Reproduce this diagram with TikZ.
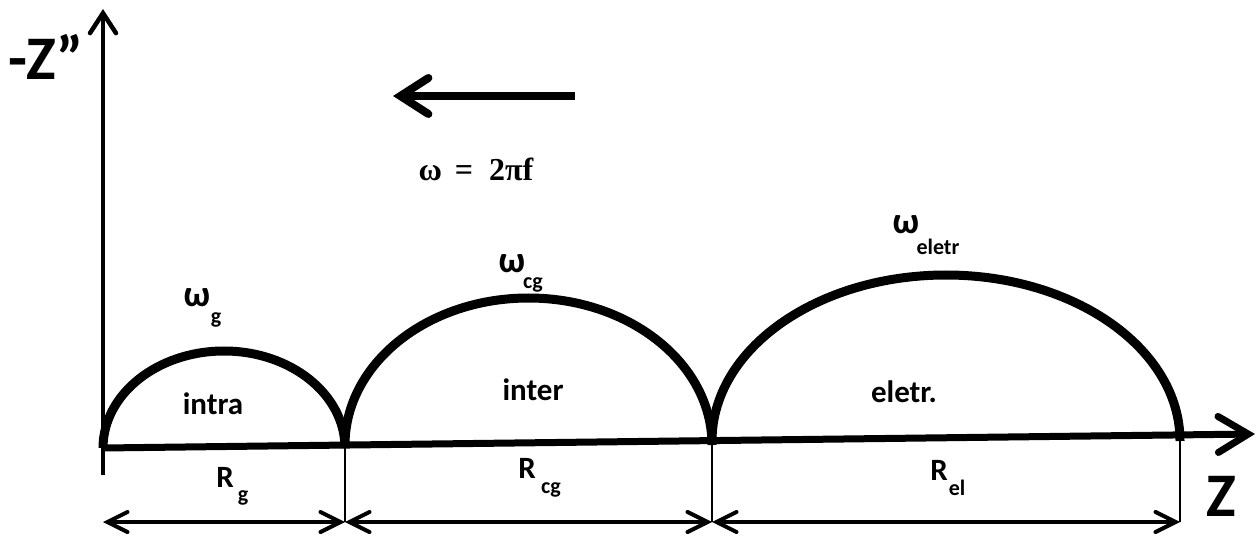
\documentclass[tikz,border=0pt]{standalone}
\usepackage{fontspec}
\setmainfont{Carlito}
\newfontfamily\serifb{Liberation Serif}
\usetikzlibrary{arrows.meta}
\begin{document}
\begin{tikzpicture}[x=1pt,y=1pt,
  lbl/.style={font=\fontsize{31}{36}\selectfont\bfseries, inner sep=0},
  sublbl/.style={font=\fontsize{22}{26}\selectfont\bfseries, inner sep=0},
  omlbl/.style={font=\fontsize{37}{44}\selectfont\bfseries, inner sep=0},
  biglbl/.style={font=\fontsize{62}{72}\selectfont\bfseries, inner sep=0},
  axisv/.style={line width=4.5pt, -{Straight Barb[length=20pt,width=26pt,line cap=round]}},
  axish/.style={line width=7pt, -{Straight Barb[length=30pt,width=36pt,line cap=round]}},
  toparr/.style={line width=8pt, -{Straight Barb[length=28pt,width=36pt,line cap=round]}},
  dimarr/.style={line width=4pt, {Straight Barb[length=20pt,width=20pt,line cap=round]}-{Straight Barb[length=20pt,width=20pt,line cap=round]}},
  tick/.style={line width=1.3pt},
  arcline/.style={line width=9pt}
]
\useasboundingbox (0,0) rectangle (1258,536);
% coordinates
\coordinate (Ybot) at (103,61);
\coordinate (Ytop) at (103,527);
\coordinate (O) at (103,88);
\coordinate (Xend) at (1255,102);
\coordinate (A) at (345,91);
\coordinate (B) at (712,95);
\coordinate (C) at (1180,99);
\coordinate (O1) at (103,14);
\coordinate (A1) at (345,14);
\coordinate (B1) at (712,14);
\coordinate (C1) at (1180,14);
\coordinate (T1) at (575,440);
\coordinate (T2) at (393,440);
% ticks
\draw[tick] (A) -- (A1);
\draw[tick] (B) -- (B1);
\draw[tick] (C) -- (C1);
% arcs
\draw[arcline] (O) arc[start angle=180,end angle=0,x radius=121,y radius=97];
\draw[arcline] (A) arc[start angle=180,end angle=0,x radius=183.5,y radius=147];
\draw[arcline] (B) arc[start angle=180,end angle=0,x radius=234,y radius=166];
% axes
\draw[axisv] (Ybot) -- (Ytop);
\draw[axish] (O) -- (Xend);
% dimension arrows
\draw[dimarr] (O1) -- (A1);
\draw[dimarr] (A1) -- (B1);
\draw[dimarr] (B1) -- (C1);
% top arrow
\draw[toparr] (T1) -- (T2);
% labels
\node[biglbl] (zpp) at (46,479) {-Z”};
\node[biglbl] (zl) at (1221,40) {Z};
\node[inner sep=0, font=\serifb\fontsize{32}{38}\selectfont\bfseries] (omf) at (476,367) {ω\hspace{0.4em}=\hspace{0.5em}2πf};
\node[omlbl] (wg) at (197,238) {ω};
\node[sublbl] (wgs) at (216,216) {g};
\node[omlbl] (wcg) at (512,272) {ω};
\node[sublbl] (wcgs) at (533,251) {cg};
\node[omlbl] (wel) at (906,311) {ω};
\node[sublbl] (wels) at (938,289) {eletr};
\node[lbl] (intra) at (213,132) {intra};
\node[lbl] (inter) at (533,146) {inter};
\node[lbl] (eletr) at (904,144) {eletr.};
\node[lbl] (rg) at (225,59) {R};
\node[sublbl] (rgs) at (243,38) {g};
\node[lbl] (rcg) at (527,68) {R};
\node[sublbl] (rcgs) at (551,46) {cg};
\node[lbl] (rel) at (939,66) {R};
\node[sublbl] (rels) at (957,48) {el};
\end{tikzpicture}
\end{document}
